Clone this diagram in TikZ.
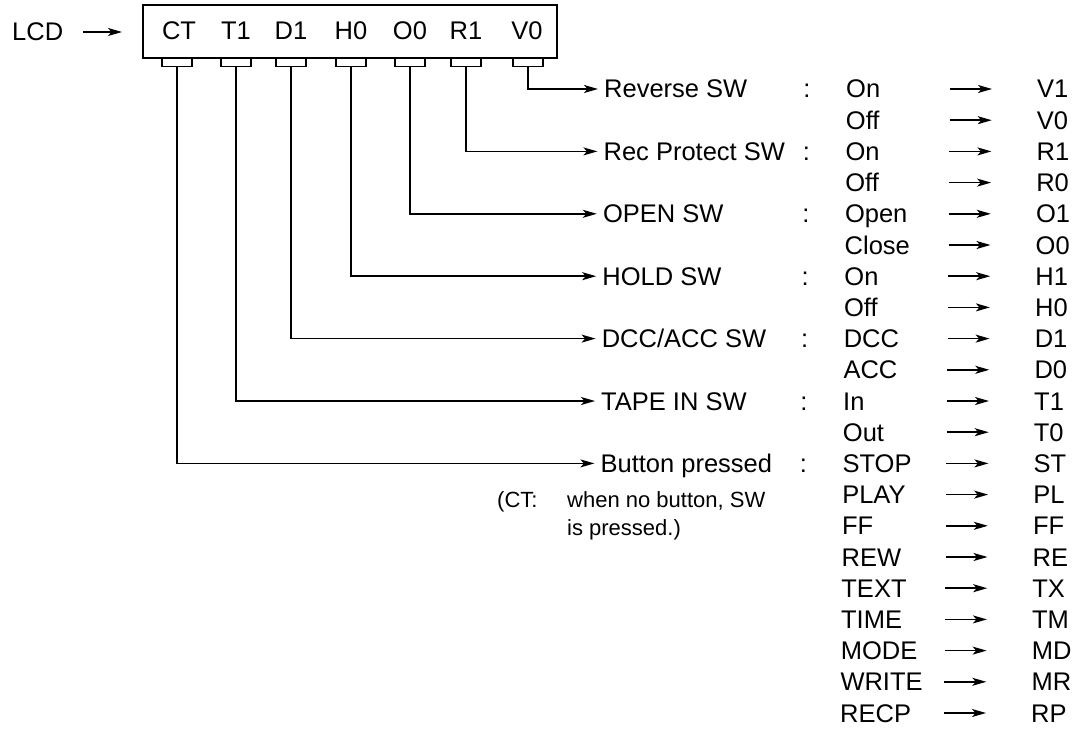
\documentclass[tikz,border=0pt]{standalone}
\usepackage{fontspec}
\setmainfont{Liberation Sans}
\usetikzlibrary{arrows.meta}
\begin{document}
\begin{tikzpicture}[x=1pt,y=-1pt,
  arr/.style={line width=1.5pt, -{Stealth[length=14pt,width=8pt,inset=3.5pt]}},
  txt/.style={inner sep=0pt, text height=18pt, text depth=0pt, anchor=west, font=\fontsize{25.5}{30}\selectfont},
  note/.style={inner sep=0pt, anchor=west, text height=16pt, text depth=0pt, font=\fontsize{22}{26}\selectfont},
  tabbox/.style={draw, line width=1.5pt, minimum width=30pt, minimum height=9pt, inner sep=0pt, anchor=north},
]
\useasboundingbox (0,0) rectangle (1078,733);

\node[draw, line width=1.8pt, minimum width=414pt, minimum height=53pt, anchor=north west, inner sep=0pt] (lcd) at (142,4) {};
\node[txt] (lcdtxt) at (12,32) {LCD};
\draw[arr, shorten <=20pt, shorten >=20pt] (lcdtxt.east) -- (lcdtxt.east -| lcd.west);

\foreach \nm/\x in {CT/179,T1/236,D1/291,H0/351,O0/410,R1/466,V0/527} {
  \node[txt, anchor=center] (c\nm) at (\x,30.5) {\nm};
}
\foreach \nm/\x in {CT/177,T1/236,D1/291,H0/351,O0/410,R1/466,V0/528} {
  \node[tabbox] (t\nm) at (\x,57) {};
}

\foreach \k/\v/\c in {0/On/V1, 1/Off/V0, 2/On/R1, 3/Off/R0, 4/Open/O1, 5/Close/O0, 6/On/H1, 7/Off/H0, 8/DCC/D1, 9/ACC/D0, 10/In/T1, 11/Out/T0, 12/STOP/ST, 13/PLAY/PL, 14/FF/FF, 15/REW/RE, 16/TEXT/TX, 17/TIME/TM, 18/MODE/MD, 19/WRITE/MR, 20/RECP/RP} {
  \pgfmathsetmacro\yy{89+31.2*\k}
  \pgfmathsetmacro\s{-0.3*\k}
  \node[txt] (v\k) at (846+\s,\yy) {\v};
  \coordinate (as\k) at (950+\s,\yy);
  \coordinate (ae\k) at (992+\s,\yy);
  \draw[arr] (as\k) -- (ae\k);
  \node[txt] (cd\k) at (1037+\s,\yy) {\c};
}

\foreach \k/\l/\t in {0/Reverse SW/V0, 2/Rec Protect SW/R1, 4/OPEN SW/O0, 6/HOLD SW/H0, 8/{DCC/ACC SW}/D1, 10/TAPE IN SW/T1, 12/Button pressed/CT} {
  \pgfmathsetmacro\yy{89+31.2*\k}
  \pgfmathsetmacro\s{-0.3*\k}
  \node[txt] (l\k) at (604+\s,\yy) {\l};
  \node[txt, anchor=center] (col\k) at (807+\s,\yy) {:};
  \draw[arr, shorten >=6pt] (t\t.south) |- (l\k.west);
}

\node[note] (n1) at (497,499) {(CT:};
\node[note] (n2) at (567,499) {when no button, SW};
\node[note] (n3) at (567,527) {is pressed.)};
\end{tikzpicture}
\end{document}
